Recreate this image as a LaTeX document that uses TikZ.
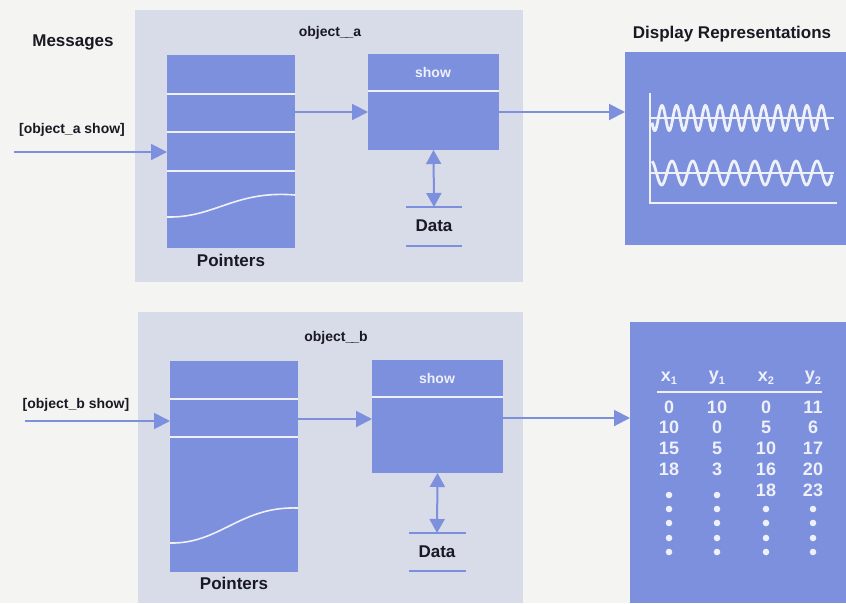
\documentclass[tikz,border=0pt]{standalone}
\usepackage{fontspec}
\setmainfont{Liberation Sans}
\usetikzlibrary{arrows.meta,calc}
\definecolor{bg}{RGB}{244,244,242}
\definecolor{objc}{RGB}{216,219,232}
\definecolor{blu}{RGB}{124,144,221}
\definecolor{ink}{RGB}{25,25,35}
\definecolor{pale}{RGB}{238,240,250}
\tikzset{
  conn/.style={draw=blu, line width=2pt, -{Triangle[length=16pt,width=16pt]}},
  dconn/.style={draw=blu, line width=2pt, {Triangle[length=14pt,width=15pt]}-{Triangle[length=14pt,width=15pt]}},
  objbox/.style={fill=objc, draw=none, anchor=north west, inner sep=0pt, outer sep=0pt},
  bluebox/.style={fill=blu, draw=none, anchor=north west, inner sep=0pt, outer sep=0pt},
  divider/.style={draw=pale, line width=1.6pt},
  wave/.style={draw=pale, line width=2.8pt},
  axisline/.style={draw=pale, line width=1.8pt},
  dataline/.style={draw=blu, line width=2pt},
  head/.style={font=\bfseries\fontsize{17}{20}\selectfont, text=ink, inner sep=0pt},
  msg/.style={font=\bfseries\fontsize{14}{16}\selectfont, text=ink, inner sep=0pt},
  showlbl/.style={font=\bfseries\fontsize{14}{16}\selectfont, text=pale, inner sep=0pt},
  cell/.style={font=\bfseries\fontsize{18}{20}\selectfont, text=pale, inner sep=0pt},
}
\newcommand{\sbx}[2]{#1\raisebox{-0.35ex}{\fontsize{11}{11}\selectfont #2}}
\begin{document}
\begin{tikzpicture}[x=1pt,y=-1pt]
\useasboundingbox (0,0) rectangle (846,603);
\fill[bg] (0,0) rectangle (846,603);

% ---------- object a ----------
\node[objbox, minimum width=388pt, minimum height=272pt] (obja) at (135,10) {};
\node[bluebox, minimum width=128pt, minimum height=193pt] (pa) at (167,55) {};
\draw[divider] (167,94) -- (295,94);
\draw[divider] (167,132) -- (295,132);
\draw[divider] (167,171) -- (295,171);
\draw[divider] (167,217) .. controls (215,218) and (235,190) .. (295,195);
\node[bluebox, minimum width=131pt, minimum height=96pt] (showa) at (368,54) {};
\draw[divider] (368,91) -- (499,91);
\node[showlbl] (showta) at (433,72) {show};
\node[msg] (lbla) at (330,33) {object\_\kern-0.15em\_a};
\node[head] (ptra) at (231,260) {Pointers};
\node[head] (dataa) at (434,226) {Data};
\coordinate (datatopa) at (434,207);
\draw[dataline] (406,207) -- (462,207);
\draw[dataline] (406,246) -- (462,246);
\node[bluebox, minimum width=221pt, minimum height=193pt] (dispa) at (625,52) {};

\node[head] (msgs) at (73,42) {Messages};
\node[msg] (msga) at (72,130) {[object\_a show]};
\coordinate (srca) at (14,152);
\node[head] (disph) at (732,34) {Display Representations};

\draw[conn] (srca) -- (pa.west |- srca);
\draw[conn] (pa.east |- 0,112) -- (showa.west |- 0,112);
\draw[conn] (showa.east |- 0,112) -- (dispa.west |- 0,112);
\draw[dconn] (showa.south) -- (datatopa);

% display a: waves
\draw[axisline] (650,93) -- (650,203) -- (837,203);
\draw[axisline] (650,118) -- (834,118);
\draw[axisline] (650,173) -- (834,173);
\draw[wave] plot[domain=652:828, samples=400, smooth] (\x, {118 - 12.5*cos(((\x-662)/14.5)*360)});
\draw[wave] plot[domain=652:832, samples=300, smooth] (\x, {173 - 12*cos(((\x-672)/20.7)*360)});

% ---------- object b ----------
\node[objbox, minimum width=385pt, minimum height=291pt] (objb) at (138,312) {};
\node[bluebox, minimum width=128pt, minimum height=211pt] (pb) at (170,361) {};
\draw[divider] (170,399) -- (298,399);
\draw[divider] (170,437) -- (298,437);
\draw[divider] (170,543) .. controls (220,544) and (240,506) .. (298,508);
\node[bluebox, minimum width=131pt, minimum height=113pt] (showb) at (372,360) {};
\draw[divider] (372,397) -- (503,397);
\node[showlbl] (showtb) at (437,378) {show};
\node[msg] (lblb) at (336,338) {object\_\kern-0.15em\_b};
\node[head] (ptrb) at (234,583) {Pointers};
\node[head] (datab) at (437,552) {Data};
\coordinate (datatopb) at (437,533);
\draw[dataline] (409,533) -- (466,533);
\draw[dataline] (409,571) -- (466,571);
\node[bluebox, minimum width=216pt, minimum height=281pt] (dispb) at (630,322) {};

\node[msg] (msgb) at (76,405) {[object\_b show]};
\coordinate (srcb) at (25,421);

\draw[conn] (srcb) -- (pb.west |- srcb);
\draw[conn] (pb.east |- 0,419) -- (showb.west |- 0,419);
\draw[conn] (showb.east |- 0,418) -- (dispb.west |- 0,418);
\draw[dconn] (showb.south) -- (datatopb);

% table
\node[cell] (h1) at (669,378) {\sbx{x}{1}};
\node[cell] (h2) at (717,378) {\sbx{y}{1}};
\node[cell] (h3) at (766,378) {\sbx{x}{2}};
\node[cell] (h4) at (813,378) {\sbx{y}{2}};
\draw[axisline] (657,392) -- (822,392);
\foreach \a/\b/\c/\d [count=\r] in {0/10/0/11, 10/0/5/6, 15/5/10/17, 18/3/16/20}{
  \node[cell, name=ra\r] at (669,{386.3+20.7*\r}) {\a};
  \node[cell, name=rb\r] at (717,{386.3+20.7*\r}) {\b};
  \node[cell, name=rc\r] at (766,{386.3+20.7*\r}) {\c};
  \node[cell, name=rd\r] at (813,{386.3+20.7*\r}) {\d};
}
\node[cell] (rc5) at (766,490) {18};
\node[cell] (rd5) at (813,490) {23};
\foreach \yy in {495,509,523,538,552}{
  \fill[pale] (669,\yy) circle (3.3pt);
  \fill[pale] (717,\yy) circle (3.3pt);
}
\foreach \yy in {509,523,538,552}{
  \fill[pale] (766,\yy) circle (3.3pt);
  \fill[pale] (813,\yy) circle (3.3pt);
}
\end{tikzpicture}
\end{document}
